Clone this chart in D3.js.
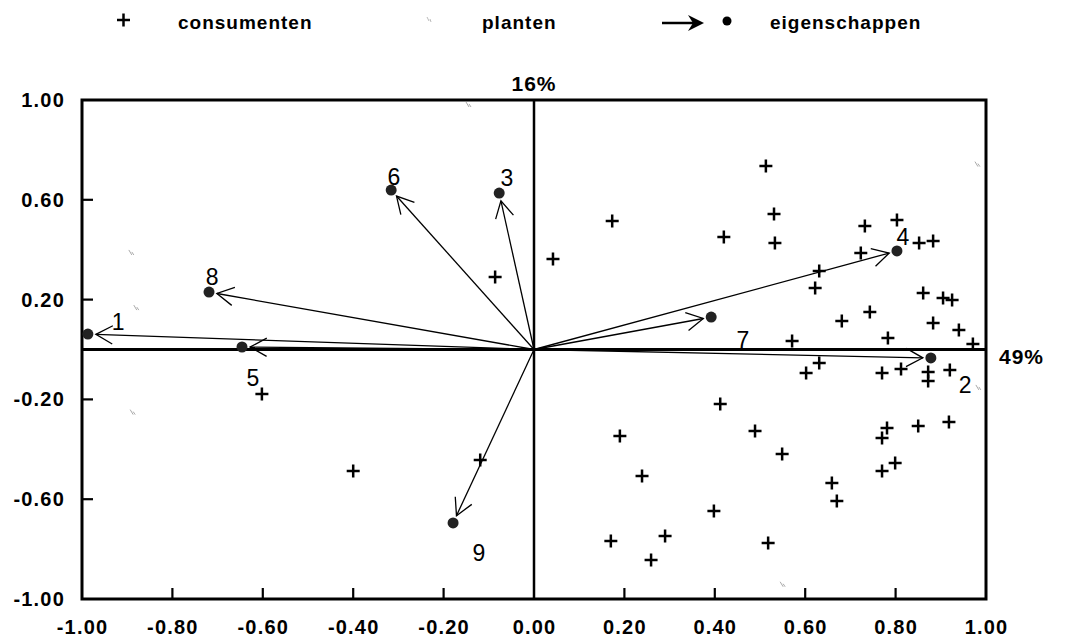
<!DOCTYPE html>
<html>
<head>
<meta charset="utf-8">
<script src="https://cdn.jsdelivr.net/npm/d3@7"></script>
<style>
  body { margin: 0; background: #fff; }
  svg text { font-family: Arial, "Liberation Sans", sans-serif; fill: #000; }
</style>
</head>
<body>
<svg id="chart" width="1072" height="644"></svg>
<script>
// eigenschappen (variables): end points and label anchors, in plot units
var varNames = ["1", "2", "3", "4", "5", "6", "7", "8", "9"];
var varX = [-0.987, 0.878, -0.077, 0.803, -0.646, -0.316, 0.392, -0.719, -0.179];
var varY = [0.062, -0.034, 0.627, 0.395, 0.010, 0.639, 0.130, 0.230, -0.695];
var labX = [-0.920, 0.954, -0.060, 0.816, -0.622, -0.310, 0.462, -0.712, -0.122];
var labY = [0.110, -0.142, 0.687, 0.451, -0.114, 0.691, 0.038, 0.291, -0.816];

// consumenten scores
var consX = [-0.602, -0.400, -0.119, -0.086, 0.042, 0.173, 0.513, 0.420, 0.531, 0.533,
  0.732, 0.803, 0.723, 0.852, 0.883, 0.631, 0.622, 0.861, 0.905, 0.925,
  0.743, 0.681, 0.883, 0.940, 0.783, 0.571, 0.971, 0.631, 0.602, 0.770,
  0.812, 0.872, 0.872, 0.920, 0.412, 0.190, 0.489, 0.549, 0.781, 0.770,
  0.850, 0.918, 0.239, 0.659, 0.670, 0.770, 0.799, 0.398, 0.170, 0.290,
  0.259, 0.518];
var consY = [-0.178, -0.487, -0.443, 0.291, 0.363, 0.515, 0.735, 0.451, 0.543, 0.427,
  0.495, 0.519, 0.387, 0.427, 0.435, 0.315, 0.246, 0.226, 0.206, 0.198,
  0.150, 0.114, 0.106, 0.078, 0.046, 0.034, 0.022, -0.054, -0.094, -0.094,
  -0.078, -0.090, -0.126, -0.082, -0.218, -0.347, -0.327, -0.419, -0.315, -0.355,
  -0.307, -0.291, -0.507, -0.535, -0.607, -0.487, -0.455, -0.647, -0.768, -0.747,
  -0.844, -0.776];

// planten (very faint marks)
var plantX = [-0.892, -0.881, -0.889, -0.146, 0.980, 0.982, 0.549];
var plantY = [0.387, 0.166, -0.253, 0.980, 0.741, -0.154, -0.943];

var xTicks = [-1, -0.8, -0.6, -0.4, -0.2, 0, 0.2, 0.4, 0.6, 0.8, 1];
var yTicks = [-1, -0.6, -0.2, 0.2, 0.6, 1];
var xMinor = [-0.8, -0.6, -0.4, -0.2, 0.2, 0.4, 0.6, 0.8];
var yMinor = [-0.6, -0.2, 0.2, 0.6];
var xAxisTitle = "49%", yAxisTitle = "16%";

var svg = d3.select("#chart");
var x = d3.scaleLinear().domain([-1, 1]).range([82, 986]);
var y = d3.scaleLinear().domain([-1, 1]).range([599, 100]);
var fmt = function (d) { return d.toFixed(2); };

// legend
var leg = svg.append("g");
leg.append("path").attr("d", "M117,20h13M123.5,13.5v13").attr("stroke", "#000").attr("stroke-width", 2.5);
leg.append("text").attr("x", 178).attr("y", 29).attr("font-size", 19).attr("font-weight", "bold")
  .attr("letter-spacing", 1).text("consumenten");
leg.append("path").attr("d", "M427,17l2,4M430,19l1,3").attr("stroke", "#bbb").attr("stroke-width", 1);
leg.append("text").attr("x", 482).attr("y", 29).attr("font-size", 19).attr("font-weight", "bold")
  .attr("letter-spacing", 1).text("planten");
leg.append("path").attr("d", "M662,23h32").attr("stroke", "#000").attr("stroke-width", 2.5);
leg.append("path").attr("d", "M688,15L704,23L688,31L693,23Z").attr("fill", "#000");
leg.append("circle").attr("cx", 727).attr("cy", 21).attr("r", 4.5).attr("fill", "#000");
leg.append("text").attr("x", 770).attr("y", 29).attr("font-size", 19).attr("font-weight", "bold")
  .attr("letter-spacing", 1).text("eigenschappen");

// axes: labels outside, small ticks inside
var gx = svg.append("g").attr("transform", "translate(0,599)")
  .call(d3.axisBottom(x).tickValues(xTicks).tickFormat(fmt).tickSize(0).tickPadding(21));
var gy = svg.append("g").attr("transform", "translate(82,0)")
  .call(d3.axisLeft(y).tickValues(yTicks).tickFormat(fmt).tickSize(0).tickPadding(17));
[gx, gy].forEach(function (g) {
  g.select(".domain").remove();
  g.selectAll("text").attr("font-size", 20).attr("font-weight", "bold").attr("letter-spacing", 1.2)
    .attr("font-family", "Arial, 'Liberation Sans', sans-serif");
});

svg.append("g").selectAll("line").data(xMinor).enter().append("line")
  .attr("x1", d => x(d)).attr("x2", d => x(d)).attr("y1", 599).attr("y2", 588)
  .attr("stroke", "#000").attr("stroke-width", 2.2);
svg.append("g").selectAll("line").data(yMinor).enter().append("line")
  .attr("x1", 82).attr("x2", 93).attr("y1", d => y(d)).attr("y2", d => y(d))
  .attr("stroke", "#000").attr("stroke-width", 2.2);

// frame and zero lines
svg.append("rect").attr("x", x(-1)).attr("y", y(1))
  .attr("width", x(1) - x(-1)).attr("height", y(-1) - y(1))
  .attr("fill", "none").attr("stroke", "#000").attr("stroke-width", 3);
svg.append("line").attr("x1", x(-1)).attr("x2", x(1)).attr("y1", y(0)).attr("y2", y(0))
  .attr("stroke", "#000").attr("stroke-width", 3);
svg.append("line").attr("x1", x(0)).attr("x2", x(0)).attr("y1", y(1)).attr("y2", y(-1))
  .attr("stroke", "#000").attr("stroke-width", 2.5);

svg.append("text").attr("x", x(0)).attr("y", 91).attr("text-anchor", "middle")
  .attr("font-size", 21).attr("font-weight", "bold").attr("letter-spacing", 1).text(yAxisTitle);
svg.append("text").attr("x", 999).attr("y", 364)
  .attr("font-size", 21).attr("font-weight", "bold").attr("letter-spacing", 1).text(xAxisTitle);

// planten
svg.append("g").selectAll("path").data(plantX).enter().append("path")
  .attr("d", (d, i) => "M" + (x(d) - 2) + "," + (y(plantY[i]) - 3) + "l3,5M" + (x(d) + 1) + "," + (y(plantY[i]) - 1) + "l2,3")
  .attr("stroke", "#aaa").attr("stroke-width", 1);

// consumenten
svg.append("g").selectAll("path").data(consX).enter().append("path")
  .attr("d", function (d, i) {
    var cx = x(d), cy = y(consY[i]);
    return "M" + (cx - 6.5) + "," + cy + "h13M" + cx + "," + (cy - 6.5) + "v13";
  })
  .attr("stroke", "#000").attr("stroke-width", 2.5);

// eigenschappen arrows
var ox = x(0), oy = y(0);
var arrows = svg.append("g");
varX.forEach(function (vx, i) {
  var ex = x(vx), ey = y(varY[i]);
  var a = Math.atan2(ey - oy, ex - ox);
  var len = Math.hypot(ex - ox, ey - oy) - 8;
  var tx = ox + len * Math.cos(a), ty = oy + len * Math.sin(a);
  var h = 19, w = 0.5;
  arrows.append("line").attr("x1", ox).attr("y1", oy).attr("x2", tx).attr("y2", ty)
    .attr("stroke", "#000").attr("stroke-width", 1.3);
  arrows.append("path")
    .attr("d", "M" + (tx - h * Math.cos(a - w)) + "," + (ty - h * Math.sin(a - w)) +
      "L" + tx + "," + ty + "L" + (tx - h * Math.cos(a + w)) + "," + (ty - h * Math.sin(a + w)))
    .attr("fill", "none").attr("stroke", "#000").attr("stroke-width", 1.3);
  arrows.append("circle").attr("cx", ex).attr("cy", ey).attr("r", 5.5).attr("fill", "#222");
  arrows.append("text").attr("x", x(labX[i])).attr("y", y(labY[i])).attr("dy", "0.35em")
    .attr("text-anchor", "middle").attr("font-size", 23).text(varNames[i]);
});
</script>
</body>
</html>
